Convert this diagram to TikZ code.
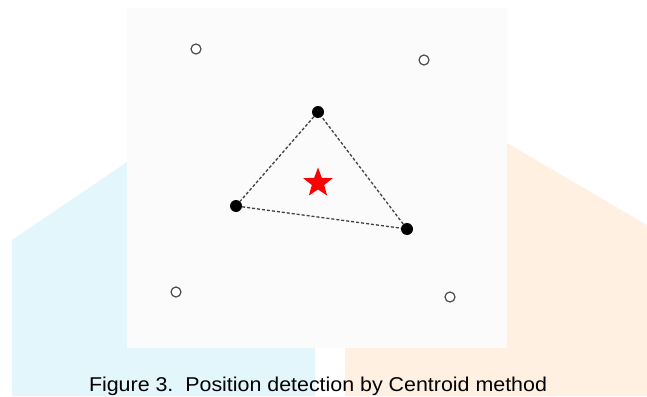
\documentclass[tikz,border=0pt]{standalone}
\usepackage{fontspec}
\setmainfont{Liberation Sans}
\usepackage{tikz}
\usetikzlibrary{shapes.geometric}
\definecolor{wmblue}{HTML}{E2F6FB}
\definecolor{wmorange}{HTML}{FFF0E2}
\definecolor{panel}{HTML}{FBFBFB}
\begin{document}
\begin{tikzpicture}[x=1pt,y=-1pt,
    refnode/.style={circle,draw=black!70,line width=1.2pt,fill=white,inner sep=0pt,minimum size=10pt},
    blindnode/.style={circle,fill=black,inner sep=0pt,minimum size=12pt},
    link/.style={black!75,line width=1.3pt,dash pattern=on 3pt off 2pt}]
        \useasboundingbox (0,0) rectangle (647,396);
        % faint watermark behind the figure
        \fill[wmblue] (12,396)--(12,240)--(127,162)--(200,125)--(315,125)--(315,396)--cycle;
        \fill[wmorange] (345,396)--(345,140)--(507,143)--(647,225)--(647,396)--cycle;
        \fill[panel] (127,8) rectangle (507,348);
        % reference nodes
        \node[refnode] (r1) at (196,49) {};
        \node[refnode] (r2) at (424,60) {};
        \node[refnode] (r3) at (176,292) {};
        \node[refnode] (r4) at (450,297) {};
        % nodes in range
        \node[blindnode] (n1) at (318,112) {};
        \node[blindnode] (n2) at (236,206) {};
        \node[blindnode] (n3) at (407,229) {};
        \draw[link] (n1)--(n2);
        \draw[link] (n2)--(n3);
        \draw[link] (n3)--(n1);
        % estimated position
        \node[star,star points=5,star point ratio=2.4,fill=red,inner sep=0pt,minimum size=31pt] (est) at (318,183) {};
        \node[font=\fontsize{20}{22}\selectfont,anchor=base] (cap) at (318,391) {\scalebox{1.07}[1]{Figure 3.\ \ Position detection by Centroid method}};
      \end{tikzpicture}
\end{document}
